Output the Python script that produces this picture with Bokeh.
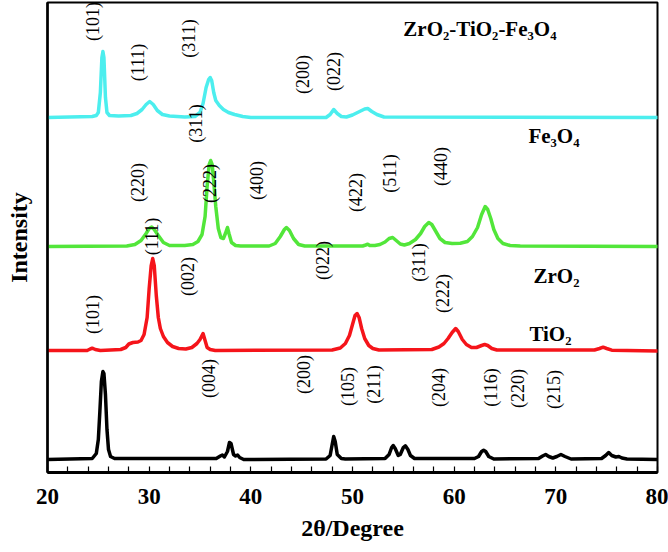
import math
from bokeh.plotting import figure
from bokeh.models import FixedTicker, Range1d, ColumnDataSource
from bokeh.core.properties import value
from bokeh.embed import file_html
from bokeh.resources import INLINE

# ---------------- data ----------------
# TiO2 (black)
tio2_x = [20, 24.4, 24.8, 25.0, 25.15, 25.3, 25.45, 25.55, 25.7, 25.85, 26.0, 26.2, 26.6,
          36.6, 37.0, 37.2, 37.4, 37.7, 37.9, 38.05, 38.3, 38.5, 38.7, 38.9, 39.3,
          47.4, 47.8, 48.0, 48.15, 48.3, 48.5, 48.9, 49.3,
          53.2, 53.6, 53.85, 54.0, 54.2, 54.5, 54.7, 55.0, 55.2, 55.45, 55.7, 56.1,
          62.0, 62.4, 62.7, 62.9, 63.1, 63.4, 63.9,
          68.3, 68.7, 69.0, 69.3, 69.7, 70.1, 70.5, 70.9, 71.5,
          74.5, 74.9, 75.2, 75.5, 75.9, 76.2, 76.5, 77.0, 80]
tio2_y = [0, 1, 6, 20, 48, 78, 88, 86, 65, 30, 10, 3, 1,
          1, 3.5, 4.5, 2.5, 8, 17, 16, 5, 3.5, 4.5, 2, 0,
          0.5, 4, 15, 23, 18, 5, 1, 0.5,
          1, 5, 12, 14, 11, 4, 5, 12, 13.7, 10, 4, 1,
          1, 3, 8, 9.3, 8, 3, 0.5,
          1, 3.5, 5, 3, 1.5, 3, 5, 3, 0.5,
          1, 4, 7, 4, 2.5, 3, 1.5, 0.5, 0]

# ZrO2 (red)
zro2_x = [20, 23.9, 24.2, 24.4, 24.7, 25.2,
          27.2, 27.7, 28.0, 28.4, 28.9, 29.2, 29.5, 29.8, 30.0, 30.2, 30.35, 30.5, 30.7, 30.9,
          31.1, 31.4, 31.8, 32.3, 32.9, 33.6, 34.2, 34.7, 35.0, 35.3, 35.5, 35.7, 36.0, 36.5,
          48.0, 48.8, 49.3, 49.7, 50.0, 50.25, 50.45, 50.65, 50.9, 51.2, 51.6, 52.0, 52.6,
          57.8, 58.5, 59.0, 59.4, 59.8, 60.15, 60.4, 60.8, 61.2, 61.7, 62.2, 62.7, 63.0,
          63.3, 63.7, 64.2, 73.8, 74.3, 74.65, 75.0, 75.5, 80]
zro2_y = [0, 0, 1.5, 2.3, 1, 0,
          1, 3, 6.5, 8, 8.5, 10, 16, 33, 62, 85, 92, 85, 55, 33,
          22, 14, 8, 4, 2, 1.5, 3, 7, 11, 17, 10, 3, 1, 0,
          0.5, 2.5, 7, 15, 26, 35, 37, 33, 22, 12, 5, 2, 0.5,
          1, 3.5, 7, 12, 18, 22, 19, 11, 6, 3, 3, 5, 6,
          5, 2, 0.5, 0.5, 2, 3.3, 2, 0.3, -0.5]

# Fe3O4 (green)
fe3o4_x = [20, 27.8, 28.6, 29.2, 29.7, 30.0, 30.25, 30.5, 30.9, 31.4, 32.0, 33.5,
           34.3, 34.8, 35.2, 35.5, 35.7, 35.9, 36.05, 36.2, 36.35, 36.55, 36.8, 37.05, 37.3,
           37.5, 37.7, 37.85, 38.1, 38.5, 39.0,
           41.8, 42.4, 42.9, 43.3, 43.5, 43.8, 44.2, 44.7, 45.3,
           51.0, 51.3, 51.5, 51.7, 52.2, 52.7, 53.2, 53.6, 53.95, 54.3, 54.7, 55.1, 55.6,
           56.2, 56.7, 57.1, 57.5, 57.8, 58.2, 58.6, 59.1, 59.8, 60.6, 61.3, 61.8, 62.3,
           62.7, 63.05, 63.3, 63.6, 63.9, 64.3, 64.8, 65.5, 66.5, 80]
fe3o4_y = [0, 0.5, 2, 6, 13, 18, 19.4, 17, 11, 4, 1, 1,
           2, 5, 12, 30, 60, 82, 86, 82, 65, 40, 18, 9, 8,
           13, 19, 13, 4, 1, 0.5,
           0.5, 3, 10, 17, 19, 16, 8, 2, 0.5,
           0.5, 1.5, 2.3, 1, 1, 2, 4.5, 8, 9, 6, 2.5, 1.5, 3,
           7, 13, 20, 24, 22, 15, 8, 4, 3, 3.3, 5, 10, 19,
           32, 40, 37, 28, 17, 8, 3, 1, 0.5, 0]

# ZrO2-TiO2-Fe3O4 composite (cyan)
comp_x = [20, 24.4, 24.8, 25.0, 25.2, 25.35, 25.45, 25.55, 25.7, 25.85, 26.1, 27.0,
          28.2, 28.8, 29.3, 29.7, 30.05, 30.4, 30.8, 31.3, 32.0, 33.5,
          34.5, 35.0, 35.3, 35.6, 35.85, 36.0, 36.15, 36.35, 36.55, 36.9, 37.3, 37.8, 38.4,
          39.2, 40.0, 47.4, 47.8, 48.15, 48.5, 48.9, 49.4, 50.0, 50.6, 51.2, 51.5, 51.9,
          52.4, 53.1, 80]
comp_y = [0, 1, 2, 5, 25, 60, 66, 60, 20, 5, 2, 1.5,
          2, 4, 8, 13, 16, 13, 7, 3, 1.5, 0.5,
          1, 5, 14, 30, 38, 40, 37, 25, 17, 12, 8, 5, 3,
          1, 0, 0, 3, 8, 4, 1, 0.5, 2.5, 5.5, 8.5, 9, 6,
          3, 0.5, 0]

# vertical offsets of the stacked patterns
offsets = {"tio2": 13, "zro2": 122, "fe3o4": 226, "comp": 355}

# peak (hkl) annotations: text, 2theta, height
hkl_text = ["(101)", "(111)", "(311)", "(200)", "(022)",
            "(311)", "(220)", "(222)", "(400)", "(111)", "(422)", "(511)", "(440)",
            "(002)", "(022)", "(101)", "(311)", "(222)",
            "(004)", "(200)", "(105)", "(211)", "(204)", "(116)", "(220)", "(215)"]
hkl_x = [24.5, 28.9, 33.9, 45.1, 48.2,
         34.6, 28.9, 36.0, 40.6, 30.3, 50.3, 53.7, 58.7,
         33.8, 47.1, 24.5, 56.5, 58.9,
         35.9, 45.2, 49.6, 52.1, 58.5, 63.6, 66.3, 69.8]
hkl_y = [451, 410, 434, 398, 401,
         349, 290, 289, 292, 236, 280, 299, 306,
         196, 212, 158, 210, 179,
         94, 98, 86, 88, 85, 85, 84, 83]

# sample names
name_text = ["ZrO₂-TiO₂-Fe₃O₄", "Fe₃O₄", "ZrO₂", "TiO₂"]
name_x = [55.0, 67.3, 67.8, 67.4]
name_y = [444, 337, 197, 139]

x_ticks = [20, 30, 40, 50, 60, 70, 80]
x_minor = [22, 24, 26, 28, 32, 34, 36, 38, 42, 44, 46, 48, 52, 54, 56, 58,
           62, 64, 66, 68, 72, 74, 76, 78]

# ---------------- figure ----------------
SERIF = "Liberation Serif"

p = figure(width=668, height=552, output_backend="svg", toolbar_location=None,
           x_range=Range1d(20, 80), y_range=Range1d(0, 470),
           min_border_left=47, min_border_right=11, min_border_top=2, min_border_bottom=80)
p.grid.visible = False
p.background_fill_color = "white"
p.border_fill_color = "white"
p.outline_line_color = "black"
p.outline_line_width = 2

series = [
    (tio2_x, tio2_y, offsets["tio2"], "#000000"),
    (zro2_x, zro2_y, offsets["zro2"], "#F5141A"),
    (fe3o4_x, fe3o4_y, offsets["fe3o4"], "#52E63A"),
    (comp_x, comp_y, offsets["comp"], "#4CEEEE"),
]
for xs, ys, off, col in series:
    p.line(xs, [v + off for v in ys], line_color=col, line_width=3.5,
           line_join="round", line_cap="round")

src_hkl = ColumnDataSource(dict(x=hkl_x, y=hkl_y, t=hkl_text))
p.text(x="x", y="y", text="t", source=src_hkl, angle=math.pi / 2,
       text_align="center", text_baseline="middle",
       text_font=value(SERIF), text_font_size="18px", text_color="black")

src_name = ColumnDataSource(dict(x=name_x, y=name_y, t=name_text))
p.text(x="x", y="y", text="t", source=src_name,
       text_align="left", text_baseline="alphabetic",
       text_font=value(SERIF), text_font_style="bold", text_font_size="21px",
       text_color="black")

# x axis
xa = p.xaxis[0]
xa.ticker = FixedTicker(ticks=x_ticks, minor_ticks=x_minor)
xa.axis_label = "2θ/Degree"
xa.axis_label_text_font = SERIF
xa.axis_label_text_font_style = "bold"
xa.axis_label_text_font_size = "24px"
xa.axis_label_text_color = "black"
xa.axis_label_standoff = 8
xa.major_label_text_font = SERIF
xa.major_label_text_font_style = "bold"
xa.major_label_text_font_size = "23px"
xa.major_label_text_color = "black"
xa.major_label_standoff = 16
xa.major_tick_in = 6
xa.major_tick_out = 0
xa.minor_tick_in = 6
xa.minor_tick_out = 0
xa.axis_line_width = 3
xa.major_tick_line_width = 1.2
xa.minor_tick_line_width = 1.2

# y axis
ya = p.yaxis[0]
ya.ticker = FixedTicker(ticks=[])
ya.axis_label = "Intensity"
ya.axis_label_text_font = SERIF
ya.axis_label_text_font_style = "bold"
ya.axis_label_text_font_size = "24px"
ya.axis_label_text_color = "black"
ya.axis_label_standoff = 16
ya.major_tick_line_color = None
ya.minor_tick_line_color = None
ya.axis_line_width = 2.5

open("out.html", "w").write(file_html(p, INLINE))
